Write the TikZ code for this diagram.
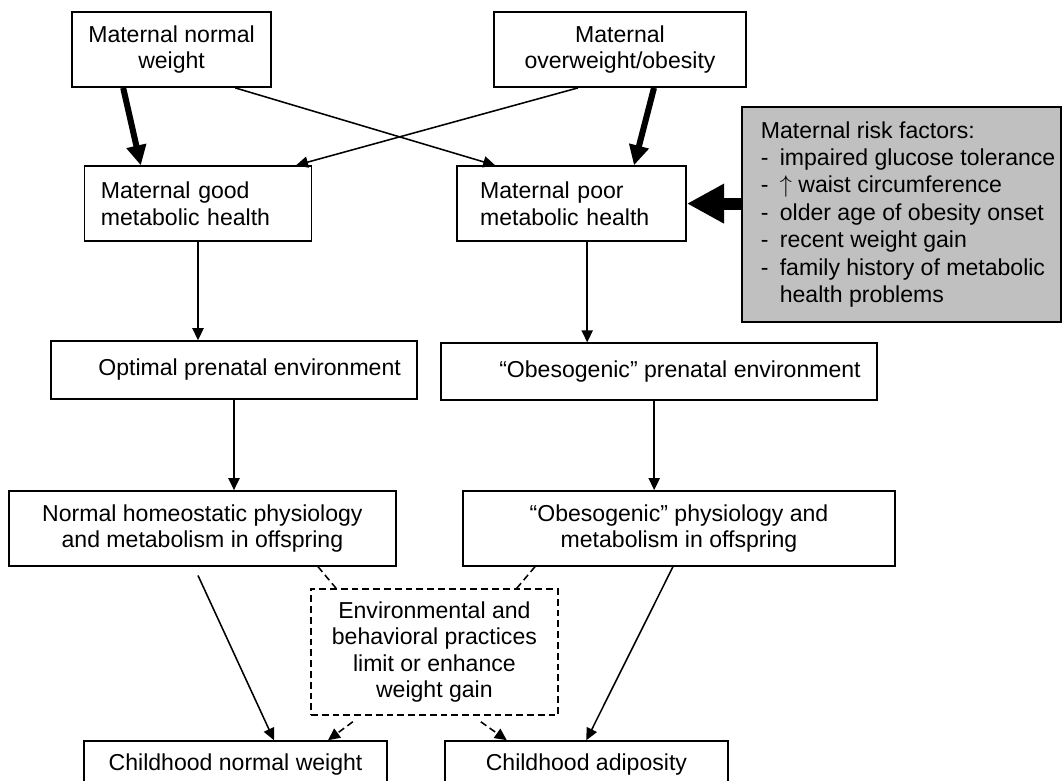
\documentclass[tikz,border=0pt]{standalone}
\usepackage{fontspec}
\setmainfont{Liberation Sans}
\usetikzlibrary{arrows.meta, positioning, calc}
\definecolor{riskgray}{RGB}{192,192,192}
\newcommand{\riskline}[1]{\hspace*{0.325cm}\makebox[0.475cm][l]{-}#1}
\tikzset{
    box/.style = {rectangle, draw=black, line width=1.1pt, align=center, inner sep=0pt, font=\fontsize{16.4}{18.8}\selectfont},
    leftbox/.style = {box, align=left},
    riskbox/.style = {box, align=left, fill=riskgray, line width=1.7pt, font=\fontsize{16.4}{19.5}\selectfont},
    dashbox/.style = {box, dash pattern=on 0.17cm off 0.1cm},
    arrow/.style = {line width=1.1pt, -{Triangle[length=0.3cm, width=0.28cm]}},
    fatarrow/.style = {line width=4.3pt, -{Triangle[length=0.5cm, width=0.48cm]}},
    bigarrow/.style = {line width=8.5pt, -{Triangle[length=0.93cm, width=0.93cm]}},
    dashline/.style = {line width=1.1pt, dash pattern=on 0.17cm off 0.1cm},
    dasharrow/.style = {arrow, dash pattern=on 0.17cm off 0.1cm}
}

\begin{document}
\begin{tikzpicture}
\clip (0,0) rectangle (26.575,-19.5);

\node[box, minimum width=4.975cm, minimum height=1.875cm] (mnw) at (4.29,-1.24) {Maternal normal\\weight};
\node[box, minimum width=6.3cm, minimum height=1.875cm] (mob) at (15.5,-1.24) {Maternal\\overweight/obesity};

\node[leftbox, text width=4.855cm, inner xsep=0.41cm, minimum height=1.875cm] (mgood) at (4.95,-5.09) {Maternal good\\metabolic health};
\node[leftbox, text width=4.575cm, inner xsep=0.575cm, minimum height=1.875cm] (mpoor) at (14.29,-5.09) {Maternal poor\\metabolic health};

\node[riskbox, minimum width=7.975cm, minimum height=5.375cm] (risk) at (22.54,-5.36) {\hspace*{0.325cm}Maternal risk factors:\\
\riskline{impaired glucose tolerance}\\
\riskline{$\uparrow$ waist circumference}\\
\riskline{older age of obesity onset}\\
\riskline{recent weight gain}\\
\riskline{family history of metabolic}\\
\hspace*{0.8cm}health problems};

\node[box, minimum width=9.15cm, minimum height=1.45cm] (optenv) at (5.85,-9.25) {\raisebox{0.12cm}{\hspace*{0.78cm}Optimal prenatal environment}};
\node[box, minimum width=10.9cm, minimum height=1.425cm] (obsenv) at (16.475,-9.29) {\raisebox{0.1cm}{\hspace*{1.05cm}“Obesogenic” prenatal environment}};

\node[box, minimum width=9.675cm, minimum height=1.875cm] (normphys) at (5.06,-13.21) {Normal homeostatic physiology\\and metabolism in offspring};
\node[box, minimum width=10.8cm, minimum height=1.875cm] (obsphys) at (16.975,-13.21) {“Obesogenic” physiology and\\metabolism in offspring};

\node[dashbox, minimum width=6.175cm, minimum height=3.15cm] (envbeh) at (10.86,-16.3) {Environmental and\\behavioral practices\\limit or enhance\\weight gain};

\node[box, minimum width=7.575cm, minimum height=1.2cm] (chnorm) at (5.89,-19.125) {Childhood normal weight};
\node[box, minimum width=7.075cm, minimum height=1.2cm] (chadip) at (14.66,-19.125) {Childhood adiposity};

\draw[fatarrow] ([xshift=-1.21cm]mnw.south) -- ([xshift=-1.43cm]mgood.north);
\draw[fatarrow] ([xshift=0.85cm]mob.south) -- ([xshift=1.56cm]mpoor.north);
\draw[arrow] ([xshift=1.59cm]mnw.south) -- ([xshift=-1.91cm]mpoor.north);
\draw[arrow] ([xshift=-1.05cm]mob.south) -- ([xshift=2.45cm]mgood.north);
\draw[bigarrow] (risk.west |- mpoor.east) -- (mpoor.east);

\draw[arrow] (mgood.south) -- (mgood.south |- optenv.north);
\draw[arrow] ([xshift=0.39cm]mpoor.south) -- ([xshift=0.39cm]mpoor.south |- obsenv.north);
\draw[arrow] (optenv.south) -- (optenv.south |- normphys.north);
\draw[arrow] ([xshift=-0.12cm]obsenv.south) -- ([xshift=-0.12cm]obsenv.south |- obsphys.north);

\draw[arrow] ([xshift=-0.11cm,yshift=-0.22cm]normphys.south) -- ([xshift=0.96cm]chnorm.north);
\draw[arrow] ([xshift=-0.15cm]obsphys.south) -- (chadip.north);
\draw[dashline] ([xshift=2.89cm]normphys.south) -- ([xshift=-2.46cm]envbeh.north);
\draw[dashline] ([xshift=-3.6cm]obsphys.south) -- ([xshift=2.06cm]envbeh.north);
\draw[dasharrow] ([xshift=-2.04cm,yshift=-0.15cm]envbeh.south) -- ([xshift=2.31cm]chnorm.north);
\draw[dasharrow] ([xshift=1.16cm,yshift=-0.15cm]envbeh.south) -- ([xshift=-1.99cm]chadip.north);

\end{tikzpicture}
\end{document}
